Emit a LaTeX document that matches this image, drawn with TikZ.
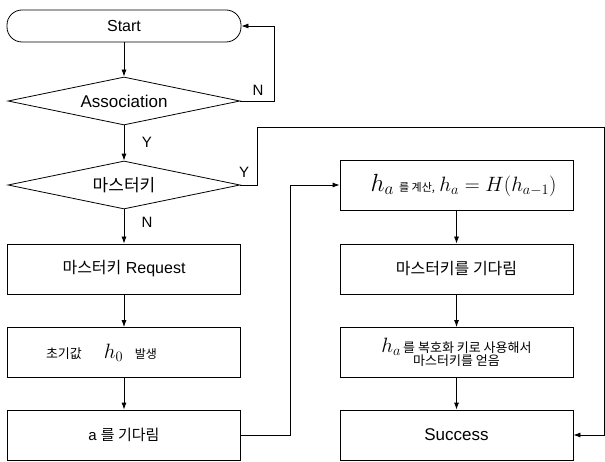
\documentclass[tikz,border=0pt]{standalone}
\usepackage{fontspec}
\setmainfont{Liberation Sans}
\newfontfamily\kr{Noto Sans CJK KR}
\usetikzlibrary{shapes.geometric,arrows.meta}
\newcommand{\fs}[1]{\fontsize{#1}{#1}\selectfont}
\tikzset{
  box/.style={draw, rectangle, minimum width=233pt, minimum height=50pt, inner sep=2pt, font=\fs{16}, align=center},
  startbox/.style={draw, rectangle, rounded corners=15pt, minimum width=234pt, minimum height=32pt, font=\fs{16}},
  dec/.style={draw, diamond, minimum width=232pt, minimum height=48pt, inner sep=0pt, aspect=4.8, font=\fs{17}},
  arr/.style={-{Latex[length=7pt,width=5pt]}},
  lab/.style={font=\fs{15}},
  every path/.style={line width=0.8pt}
}
\begin{document}
\begin{tikzpicture}[x=1pt,y=1pt]
\useasboundingbox (0,0) rectangle (605,461);
\node[startbox] (start) at (124,435) {Start};
\node[dec] (assoc) at (124,360) {Association};
\node[dec] (mk) at (124,276) {\kr 마스터키};
\node[box] (req) at (124,192) {{\kr 마스터키} Request};
\node[box] (init) at (124,108.5) {{\kr\fs{13} 초기값}\hspace{22pt}{\fs{22}$h_0$}\hspace{9pt}{\kr\fs{12} 발생}\hspace{48pt}};
\node[box] (wait) at (124,26) {\fs{15}a {\kr 를 기다림}};
\node[box] (hbox) at (456.5,276) {\hspace{14pt}{\fs{24}$h_a$}\,{\kr\fs{11} 를 계산,} {\fs{20}$h_a = H(h_{a-1})$}};
\node[box] (wait2) at (456.5,192) {\kr 마스터키를 기다림};
\node[box, font=\fontsize{13}{17}\selectfont] (dec2) at (456.5,108.5) {{\fs{22}$h_a$}\,{\kr 를 복호화 키로 사용해서}\\[-4pt]{\kr 마스터키를 얻음}};
\node[box, font=\fs{17}] (succ) at (456.5,26) {Success};

\coordinate (n1) at (274,360);
\coordinate (y1) at (257,334);
\coordinate (y2) at (604,334);
\coordinate (w1) at (290,26);

\draw[arr] (start) -- (assoc);
\draw[arr] (assoc) -- (mk);
\draw[arr] (mk) -- (req);
\draw[arr] (req) -- (init);
\draw[arr] (init) -- (wait);
\draw[arr] (hbox) -- (wait2);
\draw[arr] (wait2) -- (dec2);
\draw[arr] (dec2) -- (succ);
\draw[arr] (assoc.east) -- (n1) |- (start.east);
\draw (mk.east) -| (y1) -- (y2);
\draw[arr] (y2) |- (succ.east);
\draw[arr] (wait.east) -- (w1) |- (hbox.west);

\node[lab] (ln1) at (258,371) {N};
\node[lab] (ly1) at (147,319) {Y};
\node[lab] (ly2) at (244,289) {Y};
\node[lab] (ln2) at (147,239) {N};
\end{tikzpicture}
\end{document}
